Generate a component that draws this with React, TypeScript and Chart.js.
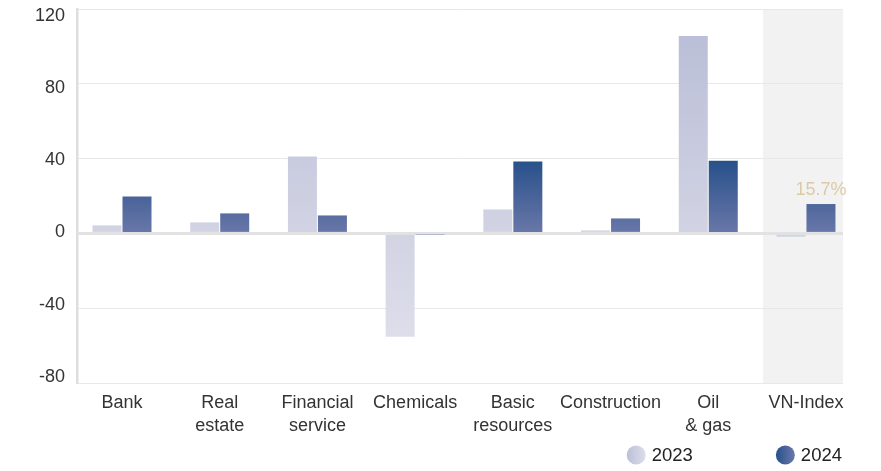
import { useEffect, useRef } from 'react';
import { Chart, registerables } from 'chart.js';

Chart.register(...registerables);

// ---- data ----
const categories: (string | string[])[] = [
  'Bank',
  ['Real', 'estate'],
  ['Financial', 'service'],
  'Chemicals',
  ['Basic', 'resources'],
  'Construction',
  ['Oil', '& gas'],
  'VN-Index',
];
const values2023 = [4.3, 5.9, 41.1, -55.3, 12.8, 1.6, 105.6, -1.8];
const values2024 = [19.7, 10.7, 9.6, -0.6, 38.4, 8.0, 38.9, 15.7];
const seriesNames = ['2023', '2024'];
const yTickValues = [-80, -40, 0, 40, 80, 120];
const highlightText = '15.7%';

const FONT = '"Liberation Sans", Arial, Helvetica, sans-serif';
const TEXT = '#333333';

const grad2023 = ['#bbbfd7', '#dddeea'];
const grad2024 = ['#27508a', '#6b78a9'];

function barGradient(values: number[], colors: string[]) {
  return (c: any) => {
    const chart = c.chart;
    const y = chart.scales && chart.scales.y;
    if (!chart.chartArea || !y) return colors[1];
    const top = y.getPixelForValue(Math.max(...values));
    const bottom = y.getPixelForValue(Math.min(0, ...values));
    const g = chart.ctx.createLinearGradient(0, top, 0, bottom);
    g.addColorStop(0, colors[0]);
    g.addColorStop(1, colors[1]);
    return g;
  };
}

const bandPlugin = {
  id: 'band',
  beforeDraw(chart: any) {
    const { ctx, chartArea, scales } = chart;
    const x0 = scales.x.getPixelForValue(categories.length - 1.44);
    ctx.save();
    ctx.fillStyle = '#f2f2f2';
    ctx.fillRect(x0, chartArea.top, chartArea.right - x0, chartArea.bottom - chartArea.top);
    ctx.restore();
  },
};

const extrasPlugin = {
  id: 'extras',
  afterDraw(chart: any) {
    const { ctx, chartArea } = chart;
    ctx.save();
    // highlight label over last 2024 bar
    const meta = chart.getDatasetMeta(1);
    const bar = meta.data[categories.length - 1];
    if (bar) {
      ctx.font = `18px ${FONT}`;
      ctx.fillStyle = '#dccaa5';
      ctx.textAlign = 'center';
      ctx.textBaseline = 'alphabetic';
      ctx.fillText(highlightText, bar.x, bar.y - 9);
    }
    // legend
    const r = 9.5;
    const cy = 455;
    ctx.font = `18.5px ${FONT}`;
    ctx.textBaseline = 'middle';
    ctx.textAlign = 'left';
    let right = chartArea.right - 1;
    const legendColors = [grad2023, grad2024];
    for (let i = seriesNames.length - 1; i >= 0; i--) {
      const w = ctx.measureText(seriesNames[i]).width;
      const tx = right - w;
      const cx = tx - 6 - r;
      const g = ctx.createLinearGradient(cx - r, 0, cx + r, 0);
      g.addColorStop(0, legendColors[i][0]);
      g.addColorStop(1, legendColors[i][1]);
      ctx.fillStyle = g;
      ctx.beginPath();
      ctx.arc(cx, cy, r, 0, Math.PI * 2);
      ctx.fill();
      ctx.fillStyle = '#222222';
      ctx.fillText(seriesNames[i], tx, cy + 1);
      right = cx - r - 83;
    }
    ctx.restore();
  },
};

export default function App() {
  const ref = useRef<HTMLCanvasElement | null>(null);

  useEffect(() => {
    if (!ref.current) return;
    Chart.defaults.font.family = FONT;
    const chart = new Chart(ref.current, {
      type: 'bar',
      data: {
        datasets: [
          {
            label: seriesNames[0],
            data: values2023.map((v, i) => ({ x: i, y: v })),
            backgroundColor: barGradient(values2023, grad2023),
            categoryPercentage: 0.614,
            barPercentage: 0.967,
            xAxisID: 'x',
            yAxisID: 'y',
          },
          {
            label: seriesNames[1],
            data: values2024.map((v, i) => ({ x: i, y: v })),
            backgroundColor: barGradient(values2024, grad2024),
            categoryPercentage: 0.614,
            barPercentage: 0.967,
            xAxisID: 'x',
            yAxisID: 'y',
          },
        ] as any,
      },
      options: {
        animation: false,
        responsive: true,
        maintainAspectRatio: false,
        layout: { padding: { top: 9, right: 38, left: 0, bottom: 0 } },
        plugins: {
          legend: { display: false },
          tooltip: { enabled: false },
        },
        scales: {
          x: {
            type: 'linear',
            offset: false,
            min: -0.4605,
            max: 7.379,
            grid: { display: false, drawTicks: false, offset: false },
            border: { display: false },
            ticks: {
              stepSize: 1,
              includeBounds: false,
              autoSkip: false,
              maxRotation: 0,
              minRotation: 0,
              padding: 9,
              color: TEXT,
              font: { size: 18, family: FONT, lineHeight: 1.26 },
              callback: (v: any) =>
                Number.isInteger(v) && v >= 0 && v < categories.length ? (categories[v] as any) : '',
            },
            afterFit: (s: any) => {
              s.height = 88;
              s.paddingLeft = 0;
              s.paddingRight = 0;
            },
          } as any,
          y: {
            type: 'linear',
            position: 'left',
            weight: 0,
            min: yTickValues[0],
            max: yTickValues[yTickValues.length - 1],
            afterBuildTicks: (s: any) => {
              s.ticks = yTickValues.map((v) => ({ value: v }));
            },
            ticks: { display: false },
            grid: {
              drawTicks: false,
              color: (c: any) => (c.tick && c.tick.value === 0 ? '#e2e2e2' : '#e8e8e8'),
              lineWidth: (c: any) => (c.tick && c.tick.value === 0 ? 3 : 1),
            },
            border: { display: true, color: '#dedede', width: 2.5 },
            afterFit: (s: any) => {
              s.width = 0;
              s.paddingTop = 0;
              s.paddingBottom = 0;
            },
          } as any,
          yLabels: {
            type: 'linear',
            position: 'left',
            weight: 1,
            min: -83.5,
            max: 123.9,
            afterBuildTicks: (s: any) => {
              s.ticks = yTickValues.map((v) => ({ value: v }));
            },
            grid: { display: false, drawTicks: false },
            border: { display: false },
            ticks: {
              padding: 12,
              color: TEXT,
              font: { size: 18, family: FONT },
            },
            afterFit: (s: any) => {
              s.width = 77;
              s.paddingTop = 0;
              s.paddingBottom = 0;
            },
          } as any,
        },
      },
      plugins: [bandPlugin, extrasPlugin],
    });
    return () => chart.destroy();
  }, []);

  return (
    <div style={{ position: 'fixed', left: 0, top: 0, width: 881, height: 471, background: '#ffffff' }}>
      <canvas ref={ref} />
    </div>
  );
}
